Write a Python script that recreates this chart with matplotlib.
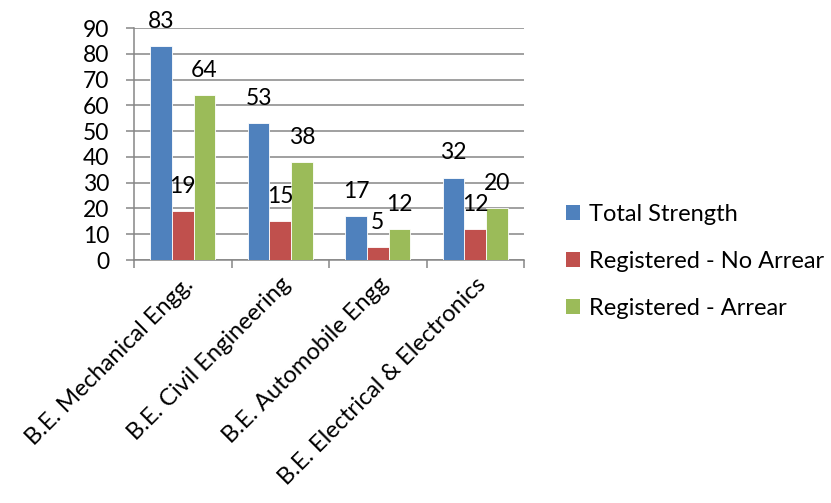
import numpy as np
import matplotlib
matplotlib.use('Agg')
import matplotlib.pyplot as plt
from matplotlib.patches import Patch

plt.rcParams['font.family'] = ['Lato', 'DejaVu Sans']

# Data
courses = ['B.E. Mechanical Engg.', 'B.E. Civil Engineering',
           'B.E. Automobile Engg', 'B.E. Electrical & Electronics']
total_strength = [83, 53, 17, 32]
reg_no_arrear = [19, 15, 5, 12]
reg_arrear = [64, 38, 12, 20]

series = ['Total Strength', 'Registered - No Arrear', 'Registered - Arrear']
colors = ['#4F81BD', '#C0504D', '#9BBB59']

fs = 16.5

fig = plt.figure(figsize=(8.31, 5.03), dpi=100)
ax = fig.add_axes([0.1613, 0.4831, 0.4693, 0.4612])

x = np.arange(len(courses))
w = 1 / 4.5
grid_c = '#868686'

for i, (vals, col) in enumerate(zip([total_strength, reg_no_arrear, reg_arrear], colors)):
    pos = x + (i - 1) * w
    ax.bar(pos, vals, w, color=col, edgecolor='white', linewidth=0.6, zorder=3)
    for p, v in zip(pos, vals):
        ax.annotate(str(v), (p, v), xytext=(0, 13), textcoords='offset points',
                    ha='center', va='baseline', fontsize=fs, color='black', zorder=4)

ax.set_xlim(-0.5, len(courses) - 0.5)
ax.set_ylim(0, 90)
ax.set_yticks(range(0, 91, 10))
ax.yaxis.grid(True, color=grid_c, linewidth=1.1, zorder=0)
ax.set_axisbelow(True)

for s in ['top', 'right']:
    ax.spines[s].set_visible(False)
for s in ['left', 'bottom']:
    ax.spines[s].set_color(grid_c)
    ax.spines[s].set_linewidth(1.1)

# category boundary ticks
ax.set_xticks(np.arange(-0.5, len(courses)), minor=False)
ax.set_xticklabels([])
ax.set_xticks(x, minor=True)
ax.set_xticklabels(courses, minor=True, rotation=45, ha='right',
                   rotation_mode='anchor', fontsize=17)
ax.tick_params(axis='x', which='major', length=6, color=grid_c, width=1.1)
ax.tick_params(axis='x', which='minor', length=0, pad=10)
ax.tick_params(axis='y', length=6, color=grid_c, width=1.1, labelsize=fs, pad=12)

handles = [Patch(facecolor=c, edgecolor='none') for c in colors]
fig.legend(handles, series, loc='center left', bbox_to_anchor=(0.655, 0.481),
           frameon=False, fontsize=17, handlelength=0.6, handleheight=0.6,
           handletextpad=0.4, labelspacing=1.1)

fig.savefig('out.png', dpi=100)
